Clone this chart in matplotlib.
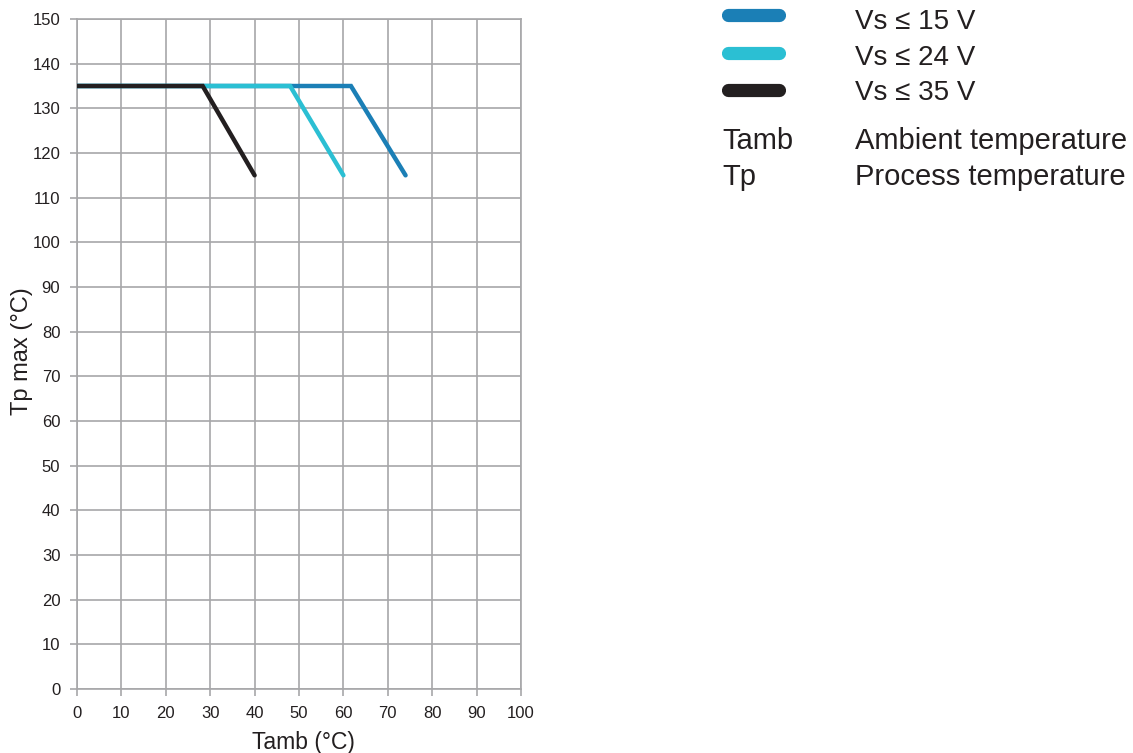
#!/usr/bin/env python3
# Derating curves: max process temperature vs ambient temperature

import matplotlib
matplotlib.use('Agg')
import matplotlib.pyplot as plt

plt.rcParams['font.family'] = ['Liberation Sans', 'DejaVu Sans']

# Curve data, one per supply voltage
labels = ['Vs \u2264 15 V', 'Vs \u2264 24 V', 'Vs \u2264 35 V']
colors = ['#1b7fb6', '#2bbfd3', '#231f20']
tamb_15 = [0, 61.7, 74]
tp_15 = [135, 135, 115]
tamb_24 = [0, 48, 60]
tp_24 = [135, 135, 115]
tamb_35 = [0, 28.3, 40]
tp_35 = [135, 135, 115]

x_ticks = list(range(0, 101, 10))
y_ticks = list(range(0, 151, 10))

abbrevs = ['Tamb', 'Tp']
meanings = ['Ambient temperature', 'Process temperature']

text_color = '#231f20'
grid_color = '#a7a7a9'

fig = plt.figure(figsize=(11.33, 7.53), dpi=100)
ax = fig.add_axes([77 / 1133, 1 - 689 / 753, 444 / 1133, 670 / 753])

series = [(tamb_15, tp_15), (tamb_24, tp_24), (tamb_35, tp_35)]
for i, (x, y) in enumerate(series):
    ax.plot(x, y, color=colors[i], linewidth=3.2, solid_capstyle='round',
            solid_joinstyle='miter', zorder=3 + i)

ax.set_xlim(0, 100)
ax.set_ylim(0, 150)
ax.set_xticks(x_ticks)
ax.set_yticks(y_ticks)
ax.grid(True, color=grid_color, linewidth=1.2)
ax.set_axisbelow(True)
for spine in ax.spines.values():
    spine.set_color(grid_color)
    spine.set_linewidth(1.2)
ax.tick_params(direction='out', length=5, width=1.2, color=grid_color,
               labelcolor=text_color, labelsize=12, pad=7)

ax.set_xlabel('Tamb (\u00b0C)', fontsize=16.5, color=text_color)
ax.xaxis.label.set_va('baseline')
ax.xaxis.set_label_coords(0.51, -60 / 670)
ax.set_ylabel('Tp max (\u00b0C)', fontsize=17, color=text_color)
ax.yaxis.set_label_coords(-44 / 444, 0.505)

# Legend drawn on an overlay in pixel coordinates
lax = fig.add_axes([0, 0, 1, 1])
lax.set_xlim(0, 1133)
lax.set_ylim(753, 0)
lax.axis('off')

for i, label in enumerate(labels):
    yy = 15 + i * 37.5
    lax.plot([728, 779], [yy, yy], color=colors[i], linewidth=9.5,
             solid_capstyle='round')
    lax.text(855, 29 + i * 35.5, label, fontsize=20, color=text_color,
             va='baseline', ha='left')

for i, (abbr, meaning) in enumerate(zip(abbrevs, meanings)):
    yy = 149 + i * 36
    lax.text(722, yy, abbr, fontsize=21, color=text_color, va='baseline', ha='left')
    lax.text(855, yy, meaning, fontsize=21, color=text_color, va='baseline', ha='left')

fig.savefig('out.png', dpi=100)
plt.close(fig)
